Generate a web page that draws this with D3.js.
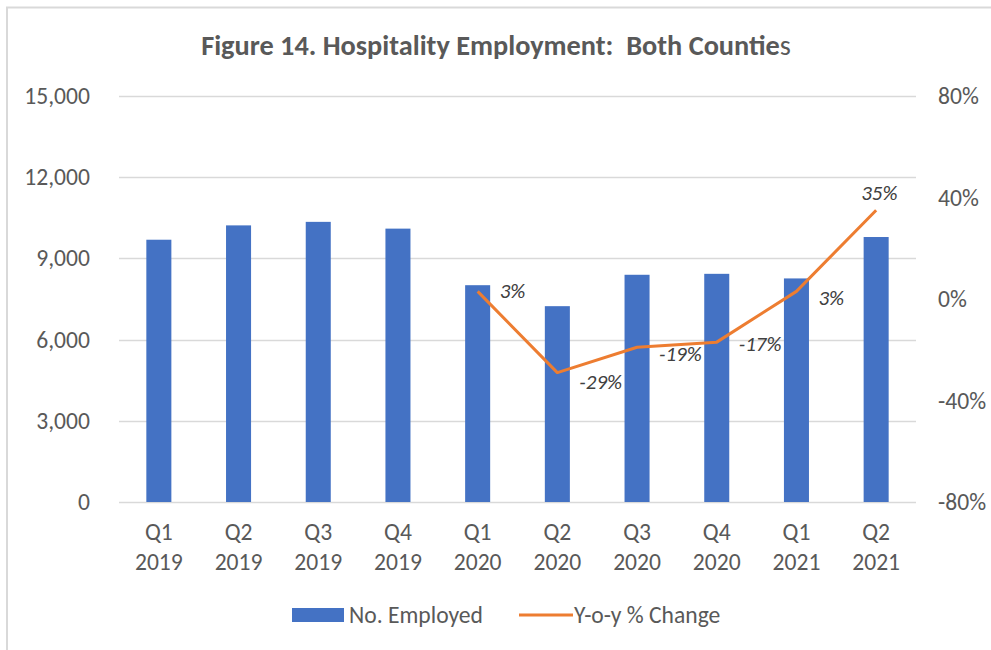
<!DOCTYPE html>
<html>
<head>
<meta charset="utf-8">
<script src="https://cdn.jsdelivr.net/npm/d3@7"></script>
<style>
  html, body { margin: 0; padding: 0; background: #fff; }
  svg { display: block; }
  svg text { font-family: Carlito, Calibri, Lato, "Open Sans", sans-serif; }
</style>
</head>
<body>
<svg id="chart" width="991" height="650"></svg>
<script>
// Quarterly hospitality employment, both counties
const quarters = ["Q1|2019", "Q2|2019", "Q3|2019", "Q4|2019", "Q1|2020",
                  "Q2|2020", "Q3|2020", "Q4|2020", "Q1|2021", "Q2|2021"];
const employed = [9690, 10220, 10350, 10100, 8010, 7235, 8395, 8430, 8260, 9790];
// Year-over-year % change (available from Q1 2020 on)
const yoyQuarters = ["Q1|2020", "Q2|2020", "Q3|2020", "Q4|2020", "Q1|2021", "Q2|2021"];
const yoyChange = [3, -29, -19, -17, 3, 35];
const leftTicks = [0, 3000, 6000, 9000, 12000, 15000];
const rightTicks = [-80, -40, 0, 40, 80];

const svg = d3.select("#chart");
const textColor = "#595959";
const gridColor = "#d9d9d9";
const blue = "#4472C4";
const orange = "#ED7D31";
const font = "Carlito, Calibri, Lato, 'Open Sans', sans-serif";
const labelSize = 23.6;

// outer frame
svg.append("path")
  .attr("d", "M7,652 V7.5 H995")
  .attr("fill", "none")
  .attr("stroke", gridColor)
  .attr("stroke-width", 2);

const plot = { left: 119, right: 916, top: 96, bottom: 502 };

const x = d3.scaleBand()
  .domain(quarters)
  .range([plot.left, plot.right])
  .paddingInner(0.686)
  .paddingOuter(0.343);

const yL = d3.scaleLinear().domain([0, 15000]).range([plot.bottom, plot.top]);
const yR = d3.scaleLinear().domain([-80, 80]).range([plot.bottom, plot.top]);

// title
const title = svg.append("text")
  .attr("x", 496)
  .attr("y", 55)
  .attr("text-anchor", "middle")
  .attr("fill", textColor)
  .style("font-size", "28.3px");
title.append("tspan").attr("font-weight", "bold").text("Figure 14. Hospitality Employment:\u00a0 Both Countie");
title.append("tspan").text("s");

// gridlines
svg.append("g")
  .selectAll("line")
  .data(leftTicks)
  .join("line")
  .attr("x1", plot.left)
  .attr("x2", plot.right)
  .attr("y1", d => Math.round(yL(d)) + 0.5)
  .attr("y2", d => Math.round(yL(d)) + 0.5)
  .attr("stroke", gridColor)
  .attr("stroke-width", 1.5);

// left axis
const leftAxis = svg.append("g")
  .attr("transform", `translate(${plot.left - 29},0)`)
  .call(d3.axisLeft(yL).tickValues(leftTicks).tickFormat(d3.format(",")).tickSize(0).tickPadding(0));
leftAxis.select(".domain").remove();
leftAxis.attr("font-family", font).attr("font-size", labelSize);
leftAxis.selectAll("text").attr("fill", textColor);

// right axis
const rightAxis = svg.append("g")
  .attr("transform", `translate(${plot.right + 22},0)`)
  .call(d3.axisRight(yR).tickValues(rightTicks).tickFormat(d => d + "%").tickSize(0).tickPadding(0));
rightAxis.select(".domain").remove();
rightAxis.attr("font-family", font).attr("font-size", labelSize);
rightAxis.selectAll("text").attr("fill", textColor);

// bars
svg.append("g")
  .selectAll("rect")
  .data(employed)
  .join("rect")
  .attr("x", (d, i) => x(quarters[i]))
  .attr("width", x.bandwidth())
  .attr("y", d => yL(d))
  .attr("height", d => yL(0) - yL(d))
  .attr("fill", blue);

// category labels (two lines)
const xAxis = svg.append("g")
  .attr("transform", `translate(0,${plot.bottom})`)
  .call(d3.axisBottom(x).tickSize(0).tickFormat(() => ""));
xAxis.select(".domain").remove();
xAxis.selectAll(".tick text").remove();
xAxis.selectAll(".tick").each(function (d) {
  const parts = d.split("|");
  const t = d3.select(this).append("text")
    .attr("text-anchor", "middle")
    .attr("fill", textColor)
    .style("font-size", labelSize + "px");
  t.append("tspan").attr("x", 0).attr("y", 38).text(parts[0]);
  t.append("tspan").attr("x", 0).attr("y", 68).text(parts[1]);
});

// y-o-y line
const cx = q => x(q) + x.bandwidth() / 2;
const line = d3.line()
  .x((d, i) => cx(yoyQuarters[i]))
  .y(d => yR(d));
svg.append("path")
  .datum(yoyChange)
  .attr("d", line)
  .attr("fill", "none")
  .attr("stroke", orange)
  .attr("stroke-width", 3)
  .attr("stroke-linejoin", "round");

// data labels
const labelOffsets = [[22, 0], [22, 9], [22, 7], [22, 2], [22, 7], [-15, -17]];
svg.append("g")
  .selectAll("text")
  .data(yoyChange)
  .join("text")
  .attr("x", (d, i) => cx(yoyQuarters[i]) + labelOffsets[i][0])
  .attr("y", (d, i) => yR(d) + labelOffsets[i][1] + 7)
  .attr("fill", "#404040")
  .style("font-size", "21px")
  .style("font-style", "italic")
  .text(d => d + "%");

// legend
const legend = svg.append("g");
legend.append("rect")
  .attr("x", 292).attr("y", 608).attr("width", 52).attr("height", 14)
  .attr("fill", blue);
legend.append("text")
  .attr("x", 349).attr("y", 623)
  .attr("fill", textColor)
  .style("font-size", labelSize + "px")
  .text("No. Employed");
legend.append("line")
  .attr("x1", 519).attr("x2", 573).attr("y1", 615).attr("y2", 615)
  .attr("stroke", orange).attr("stroke-width", 3);
legend.append("text")
  .attr("x", 574).attr("y", 623)
  .attr("fill", textColor)
  .style("font-size", labelSize + "px")
  .text("Y-o-y % Change");
</script>
</body>
</html>
